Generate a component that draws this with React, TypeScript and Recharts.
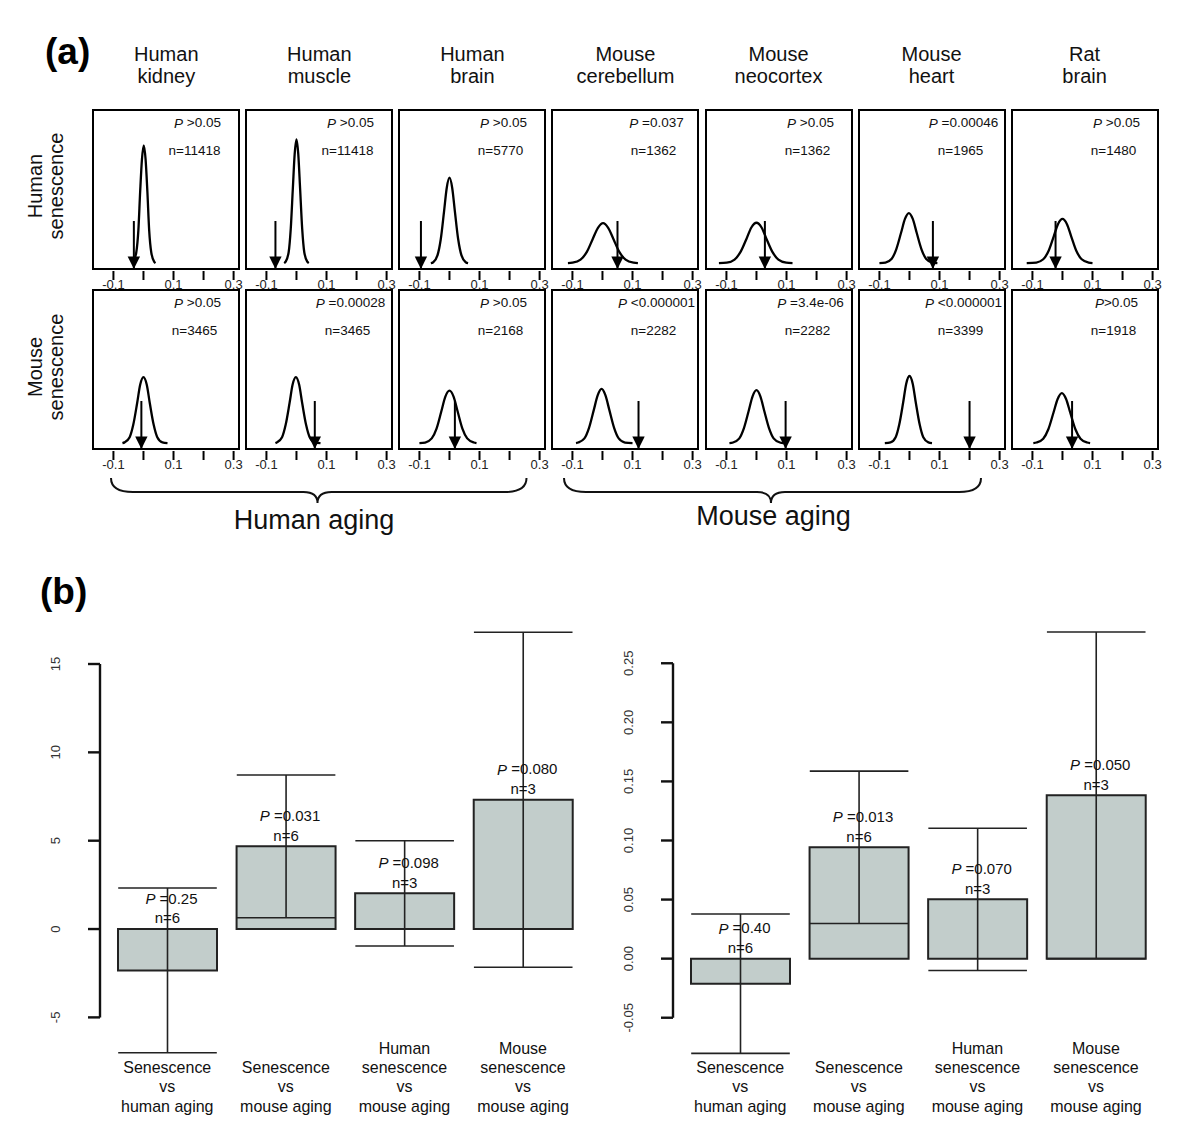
import React from 'react';
import {
  LineChart, Line, XAxis, YAxis, ReferenceArea, ReferenceLine, ReferenceDot,
  BarChart, Bar, ErrorBar, LabelList,
} from 'recharts';

const FONT = '"Liberation Sans", Arial, Helvetica, sans-serif';

// ---------------- Panel (a) data ----------------
const tissueTitles = [
  ['Human', 'kidney'], ['Human', 'muscle'], ['Human', 'brain'],
  ['Mouse', 'cerebellum'], ['Mouse', 'neocortex'], ['Mouse', 'heart'], ['Rat', 'brain'],
];
const rowLabels = [['Human', 'senescence'], ['Mouse', 'senescence']];
const xTicks = [-0.1, 0, 0.1, 0.2, 0.3];
const xTickLabels = ['-0.1', '', '0.1', '', '0.3'];

// density curves (x = correlation, y = density), human senescence row
const hsKidney = [[-0.038, 0], [-0.034, 0.4], [-0.024, 3.6], [-0.017, 11.1], [-0.011, 24.3], [-0.005, 35.3], [0.001, 40], [0.007, 35.3], [0.013, 24.3], [0.019, 11.1], [0.026, 3.6], [0.036, 0.4], [0.04, 0]];
const hsMuscle = [[-0.041, 0], [-0.036, 0.5], [-0.026, 3.7], [-0.019, 11.7], [-0.012, 25.5], [-0.006, 37.0], [0, 42], [0.006, 37.0], [0.012, 25.5], [0.019, 11.7], [0.026, 3.7], [0.036, 0.5], [0.041, 0]];
const hsBrain = [[-0.062, 0], [-0.054, 0.3], [-0.04, 2.6], [-0.029, 8.1], [-0.018, 17.6], [-0.009, 25.6], [0, 29], [0.009, 25.6], [0.018, 17.6], [0.029, 8.1], [0.04, 2.6], [0.054, 0.3], [0.062, 0]];
const hsCerebellum = [[-0.115, 0], [-0.1, 0.15], [-0.073, 1.2], [-0.052, 3.8], [-0.032, 8.3], [-0.015, 12.0], [0.002, 13.6], [0.019, 12.0], [0.036, 8.3], [0.056, 3.8], [0.077, 1.2], [0.104, 0.15], [0.118, 0]];
const hsNeocortex = [[-0.125, 0], [-0.099, 0.15], [-0.073, 1.2], [-0.053, 3.8], [-0.033, 8.3], [-0.017, 12.1], [0, 13.7], [0.017, 12.1], [0.033, 8.3], [0.053, 3.8], [0.073, 1.2], [0.099, 0.15], [0.12, 0]];
const hsHeart = [[-0.1, 0], [-0.08, 0.2], [-0.059, 1.5], [-0.044, 4.7], [-0.028, 10.3], [-0.015, 15.0], [-0.002, 17], [0.011, 15.0], [0.024, 10.3], [0.04, 4.7], [0.055, 1.5], [0.076, 0.2], [0.093, 0]];
const hsRat = [[-0.119, 0], [-0.087, 0.2], [-0.064, 1.3], [-0.046, 4.2], [-0.029, 9.1], [-0.015, 13.2], [0, 15], [0.015, 13.2], [0.029, 9.1], [0.046, 4.2], [0.064, 1.3], [0.087, 0.2], [0.1, 0]];

// mouse senescence row
const msKidney = [[-0.07, 0], [-0.063, 0.25], [-0.046, 2.0], [-0.034, 6.2], [-0.021, 13.6], [-0.011, 19.8], [0, 22.4], [0.011, 19.8], [0.021, 13.6], [0.034, 6.2], [0.046, 2.0], [0.063, 0.25], [0.08, 0]];
const msMuscle = [[-0.07, 0], [-0.065, 0.25], [-0.048, 2.0], [-0.036, 6.2], [-0.023, 13.6], [-0.013, 19.8], [-0.002, 22.4], [0.009, 19.8], [0.019, 13.6], [0.032, 6.2], [0.044, 2.0], [0.061, 0.25], [0.08, 0]];
const msBrain = [[-0.1, 0], [-0.081, 0.2], [-0.059, 1.6], [-0.043, 4.9], [-0.027, 10.8], [-0.014, 15.7], [0, 17.8], [0.014, 15.7], [0.027, 10.8], [0.043, 4.9], [0.059, 1.6], [0.081, 0.2], [0.09, 0]];
const msCerebellum = [[-0.088, 0], [-0.081, 0.2], [-0.06, 1.6], [-0.045, 5.1], [-0.029, 11.2], [-0.016, 16.2], [-0.003, 18.4], [0.01, 16.2], [0.023, 11.2], [0.039, 5.1], [0.054, 1.6], [0.075, 0.2], [0.1, 0]];
const msNeocortex = [[-0.09, 0], [-0.078, 0.2], [-0.057, 1.6], [-0.042, 5.0], [-0.026, 10.9], [-0.013, 15.9], [0, 18], [0.013, 15.9], [0.026, 10.9], [0.042, 5.0], [0.057, 1.6], [0.078, 0.2], [0.09, 0]];
const msHeart = [[-0.082, 0], [-0.063, 0.25], [-0.046, 2.0], [-0.034, 6.3], [-0.021, 13.8], [-0.011, 20.1], [0, 22.8], [0.011, 20.1], [0.021, 13.8], [0.034, 6.3], [0.046, 2.0], [0.063, 0.25], [0.075, 0]];
const msRat = [[-0.097, 0], [-0.086, 0.2], [-0.064, 1.5], [-0.047, 4.7], [-0.03, 10.3], [-0.016, 15.0], [-0.002, 17], [0.012, 15.0], [0.026, 10.3], [0.043, 4.7], [0.06, 1.5], [0.082, 0.2], [0.092, 0]];

const humanSenDensities = [hsKidney, hsMuscle, hsBrain, hsCerebellum, hsNeocortex, hsHeart, hsRat];
const mouseSenDensities = [msKidney, msMuscle, msBrain, msCerebellum, msNeocortex, msHeart, msRat];
const humanSenArrows = [-0.032, -0.07, -0.095, 0.05, 0.028, 0.078, -0.023];
const mouseSenArrows = [-0.007, 0.061, 0.018, 0.12, 0.097, 0.2, 0.032];
const humanSenP = [' >0.05', ' >0.05', ' >0.05', ' =0.037', ' >0.05', ' =0.00046', ' >0.05'];
const mouseSenP = [' >0.05', ' =0.00028', ' >0.05', ' <0.000001', ' =3.4e-06', ' <0.000001', '>0.05'];
const humanSenN = ['11418', '11418', '5770', '1362', '1362', '1965', '1480'];
const mouseSenN = ['3465', '3465', '2168', '2282', '2282', '3399', '1918'];

// ---------------- Panel (b) data ----------------
const comparisons = [
  'Senescence\nvs\nhuman aging',
  'Senescence\nvs\nmouse aging',
  'Human\nsenescence\nvs\nmouse aging',
  'Mouse\nsenescence\nvs\nmouse aging',
];
const leftMeans = [-2.34, 4.68, 2.02, 7.32];
const leftErrs = [4.66, 4.04, 2.98, 9.48];
const leftP = ['=0.25', '=0.031', '=0.098', '=0.080'];
const rightMeans = [-0.0212, 0.0942, 0.0502, 0.1382];
const rightErrs = [0.059, 0.0645, 0.0602, 0.1382];
const rightP = ['=0.40', '=0.013', '=0.070', '=0.050'];
const groupN = ['6', '6', '3', '3'];
const leftTicks = [-5, 0, 5, 10, 15];
const leftTickLabels = ['-5', '0', '5', '10', '15'];
const rightTicks = [-0.05, 0, 0.05, 0.1, 0.15, 0.2, 0.25];
const rightTickLabels = ['-0.05', '0.00', '0.05', '0.10', '0.15', '0.20', '0.25'];

// ---------------- layout / style constants ----------------
const XMIN = -0.168, XMAX = 0.318, YMIN = -2, YMAX = 52, ARROW_TOP = 14.3;
const P_X = 0.18, P_Y = 47.6, N_X = 0.17, N_Y = 38.1;
const BOX_LEFT0 = 93.3, BOX_STEP = 153.05, BOX_W = 146, BOX_H = 159;
const ROW_TOPS = [110, 290];
const AXIS_GAP = 8;

const MiniTick = (props: any) => {
  const { x, y, payload } = props;
  const label = xTickLabels[xTicks.indexOf(payload.value)];
  return (
    <g>
      <line x1={x} x2={x} y1={y + 2} y2={y + 11} stroke="#000" strokeWidth={2} />
      {label ? (
        <text x={x} y={y + 15} textAnchor="middle" dominantBaseline="central" fontSize={13} fontFamily={FONT} fill="#222">{label}</text>
      ) : null}
    </g>
  );
};

const ArrowHead = (props: any) => {
  const { cx, cy } = props;
  return <polygon points={`${cx - 6.2},${cy - 12.5} ${cx + 6.2},${cy - 12.5} ${cx},${cy}`} fill="#000" />;
};

function MiniPanel({ pts, arrow, pText, nText, left, top }: any) {
  const data = pts.map((p: number[]) => ({ x: p[0], y: p[1] }));
  const PShape = (props: any) => (
    <text x={props.cx} y={props.cy} textAnchor="middle" dominantBaseline="central" fontSize={13.5} fontFamily={FONT} fill="#111" style={{ whiteSpace: 'pre' }}>
      <tspan fontStyle="italic">P</tspan>{pText}
    </text>
  );
  const NShape = (props: any) => (
    <text x={props.cx} y={props.cy} textAnchor="middle" dominantBaseline="central" fontSize={13.5} fontFamily={FONT} fill="#111">{'n=' + nText}</text>
  );
  return (
    <div style={{ position: 'absolute', left: left - 4, top: top - 2 }}>
      <LineChart width={BOX_W + 8} height={BOX_H + 2 + 30} data={data} margin={{ top: 2, right: 4, left: 4, bottom: 0 }} style={{ overflow: 'visible' }}>
        <XAxis type="number" dataKey="x" domain={[XMIN, XMAX]} allowDataOverflow ticks={xTicks} interval={0}
          axisLine={false} tickLine={false} tickSize={0} tickMargin={0} height={30} tick={<MiniTick />} />
        <YAxis type="number" domain={[YMIN, YMAX]} allowDataOverflow hide />
        <ReferenceArea x1={XMIN} x2={XMAX} y1={YMIN} y2={YMAX} fill="none" fillOpacity={0} stroke="#000" strokeWidth={2} ifOverflow="visible" />
        <Line dataKey="y" type="monotone" dot={false} stroke="#000" strokeWidth={2.3} isAnimationActive={false} />
        <ReferenceLine segment={[{ x: arrow, y: ARROW_TOP }, { x: arrow, y: YMIN }]} stroke="#000" strokeWidth={2} ifOverflow="visible" />
        <ReferenceDot x={arrow} y={YMIN} r={1} shape={ArrowHead} ifOverflow="visible" />
        <ReferenceDot x={P_X} y={P_Y} r={1} shape={PShape} ifOverflow="visible" />
        <ReferenceDot x={N_X} y={N_Y} r={1} shape={NShape} ifOverflow="visible" />
      </LineChart>
    </div>
  );
}

const CatTick = (props: any) => {
  const { x, y, payload } = props;
  const lines = String(payload.value).split('\n');
  const k = lines.length;
  return (
    <g>
      {lines.map((l, i) => (
        <text key={i} x={x} y={y + 41.4 - (k - 1 - i) * 19.3} textAnchor="middle" fontSize={16} fontFamily={FONT} fill="#111">{l}</text>
      ))}
    </g>
  );
};

const makeYTick = (ticks: number[], labels: string[]) => (props: any) => {
  const { x, y, payload } = props;
  const i = ticks.indexOf(payload.value);
  const lx = x - 52;
  return (
    <g>
      <line x1={x - AXIS_GAP - 12} x2={x - AXIS_GAP} y1={y} y2={y} stroke="#111" strokeWidth={2.4} />
      <text x={lx} y={y} transform={`rotate(-90, ${lx}, ${y})`} textAnchor="middle" dominantBaseline="central" fontSize={13} fontFamily={FONT} fill="#333">{labels[i]}</text>
    </g>
  );
};

const AxisLineShape = (p: any) => (
  <line x1={p.x1 - AXIS_GAP} y1={p.y1} x2={p.x2 - AXIS_GAP} y2={p.y2} stroke="#111" strokeWidth={2.4} />
);

const makeBarLabel = (pvals: string[], ns: string[]) => (props: any) => {
  const { x, y, width, height, index } = props;
  const top = Math.min(Number(y), Number(y) + Number(height));
  const cx = Number(x) + Number(width) / 2;
  return (
    <g fontFamily={FONT} fontSize={15} fill="#111">
      <text x={cx + 4} y={top - 31} textAnchor="middle" dominantBaseline="central" style={{ whiteSpace: 'pre' }}>
        <tspan fontStyle="italic">P</tspan>{' ' + pvals[index]}
      </text>
      <text x={cx} y={top - 11.3} textAnchor="middle" dominantBaseline="central">{'n=' + ns[index]}</text>
    </g>
  );
};

function BoxChart({ left, top, plotH, domain, ticks, tickLabels, axisRange, means, errs, pvals }: any) {
  const data = comparisons.map((c, i) => ({ cat: c, mean: means[i], err: errs[i] }));
  const YTick = makeYTick(ticks, tickLabels);
  return (
    <div style={{ position: 'absolute', left, top }}>
      <BarChart width={70 + 474.3 + 20} height={plotH + 60} data={data} margin={{ top: 0, right: 20, left: 0, bottom: 0 }}
        barCategoryGap={10} style={{ overflow: 'visible' }}>
        <XAxis dataKey="cat" axisLine={false} tickLine={false} tickSize={0} tickMargin={0} height={60} interval={0} tick={<CatTick />} />
        <YAxis type="number" domain={domain} allowDataOverflow ticks={ticks} interval={0} width={70}
          axisLine={false} tickLine={false} tickSize={0} tickMargin={0} tick={<YTick />} />
        <ReferenceLine segment={[{ x: comparisons[0], y: axisRange[0] }, { x: comparisons[0], y: axisRange[1] }]}
          position="start" ifOverflow="visible" shape={AxisLineShape} />
        <Bar dataKey="mean" fill="#c2cdcb" stroke="#222" strokeWidth={2} isAnimationActive={false}>
          <ErrorBar dataKey="err" direction="y" width={49.3} stroke="#222" strokeWidth={1.6} />
          <LabelList dataKey="mean" content={makeBarLabel(pvals, groupN)} />
        </Bar>
      </BarChart>
    </div>
  );
}

function bracePath(x1: number, x2: number, xm: number, y0: number, y1: number, y2: number) {
  return `M ${x1} ${y0} Q ${x1} ${y1} ${x1 + 22} ${y1} L ${xm - 14} ${y1} Q ${xm} ${y1} ${xm} ${y2} Q ${xm} ${y1} ${xm + 14} ${y1} L ${x2 - 22} ${y1} Q ${x2} ${y1} ${x2} ${y0}`;
}

const panelRows = [
  { densities: humanSenDensities, arrows: humanSenArrows, p: humanSenP, n: humanSenN },
  { densities: mouseSenDensities, arrows: mouseSenArrows, p: mouseSenP, n: mouseSenN },
];

export default function App() {
  return (
    <div style={{ position: 'absolute', left: 0, top: 0, width: 1200, height: 1141, background: '#fff', fontFamily: FONT }}>
      {panelRows.map((row, r) =>
        row.densities.map((pts, i) => (
          <MiniPanel key={`${r}-${i}`} pts={pts} arrow={row.arrows[i]} pText={row.p[i]} nText={row.n[i]}
            left={BOX_LEFT0 + i * BOX_STEP} top={ROW_TOPS[r]} />
        ))
      )}
      <BoxChart left={38.1} top={610.6} plotH={459.4} domain={[-8, 18]} ticks={leftTicks} tickLabels={leftTickLabels}
        axisRange={[-5, 15]} means={leftMeans} errs={leftErrs} pvals={leftP} />
      <BoxChart left={610.7} top={615.7} plotH={454.3} domain={[-0.0945, 0.29]} ticks={rightTicks} tickLabels={rightTickLabels}
        axisRange={[-0.05, 0.25]} means={rightMeans} errs={rightErrs} pvals={rightP} />
      <svg width={1200} height={1141} style={{ position: 'absolute', left: 0, top: 0, pointerEvents: 'none' }} fontFamily={FONT}>
        <text x={45} y={64} fontSize={37} fontWeight="bold" fill="#000">(a)</text>
        <text x={40} y={604} fontSize={37} fontWeight="bold" fill="#000">(b)</text>
        {tissueTitles.map((t, i) => (
          <g key={i}>
            <text x={BOX_LEFT0 + i * BOX_STEP + BOX_W / 2} y={61} textAnchor="middle" fontSize={20} fill="#111">{t[0]}</text>
            <text x={BOX_LEFT0 + i * BOX_STEP + BOX_W / 2} y={83} textAnchor="middle" fontSize={20} fill="#111">{t[1]}</text>
          </g>
        ))}
        {rowLabels.map((l, r) => {
          const cy = r === 0 ? 186 : 367;
          return (
            <g key={r}>
              <text x={41.7} y={cy} transform={`rotate(-90, 41.7, ${cy})`} textAnchor="middle" fontSize={20} fill="#111">{l[0]}</text>
              <text x={63} y={cy} transform={`rotate(-90, 63, ${cy})`} textAnchor="middle" fontSize={20} fill="#111">{l[1]}</text>
            </g>
          );
        })}
        <path d={bracePath(111, 526.5, 317.5, 478, 492, 503)} fill="none" stroke="#111" strokeWidth={2} />
        <path d={bracePath(564, 981, 771, 478, 492, 503)} fill="none" stroke="#111" strokeWidth={2} />
        <text x={314} y={529} textAnchor="middle" fontSize={27} fill="#111">Human aging</text>
        <text x={773.5} y={525} textAnchor="middle" fontSize={27} fill="#111">Mouse aging</text>
      </svg>
    </div>
  );
}
